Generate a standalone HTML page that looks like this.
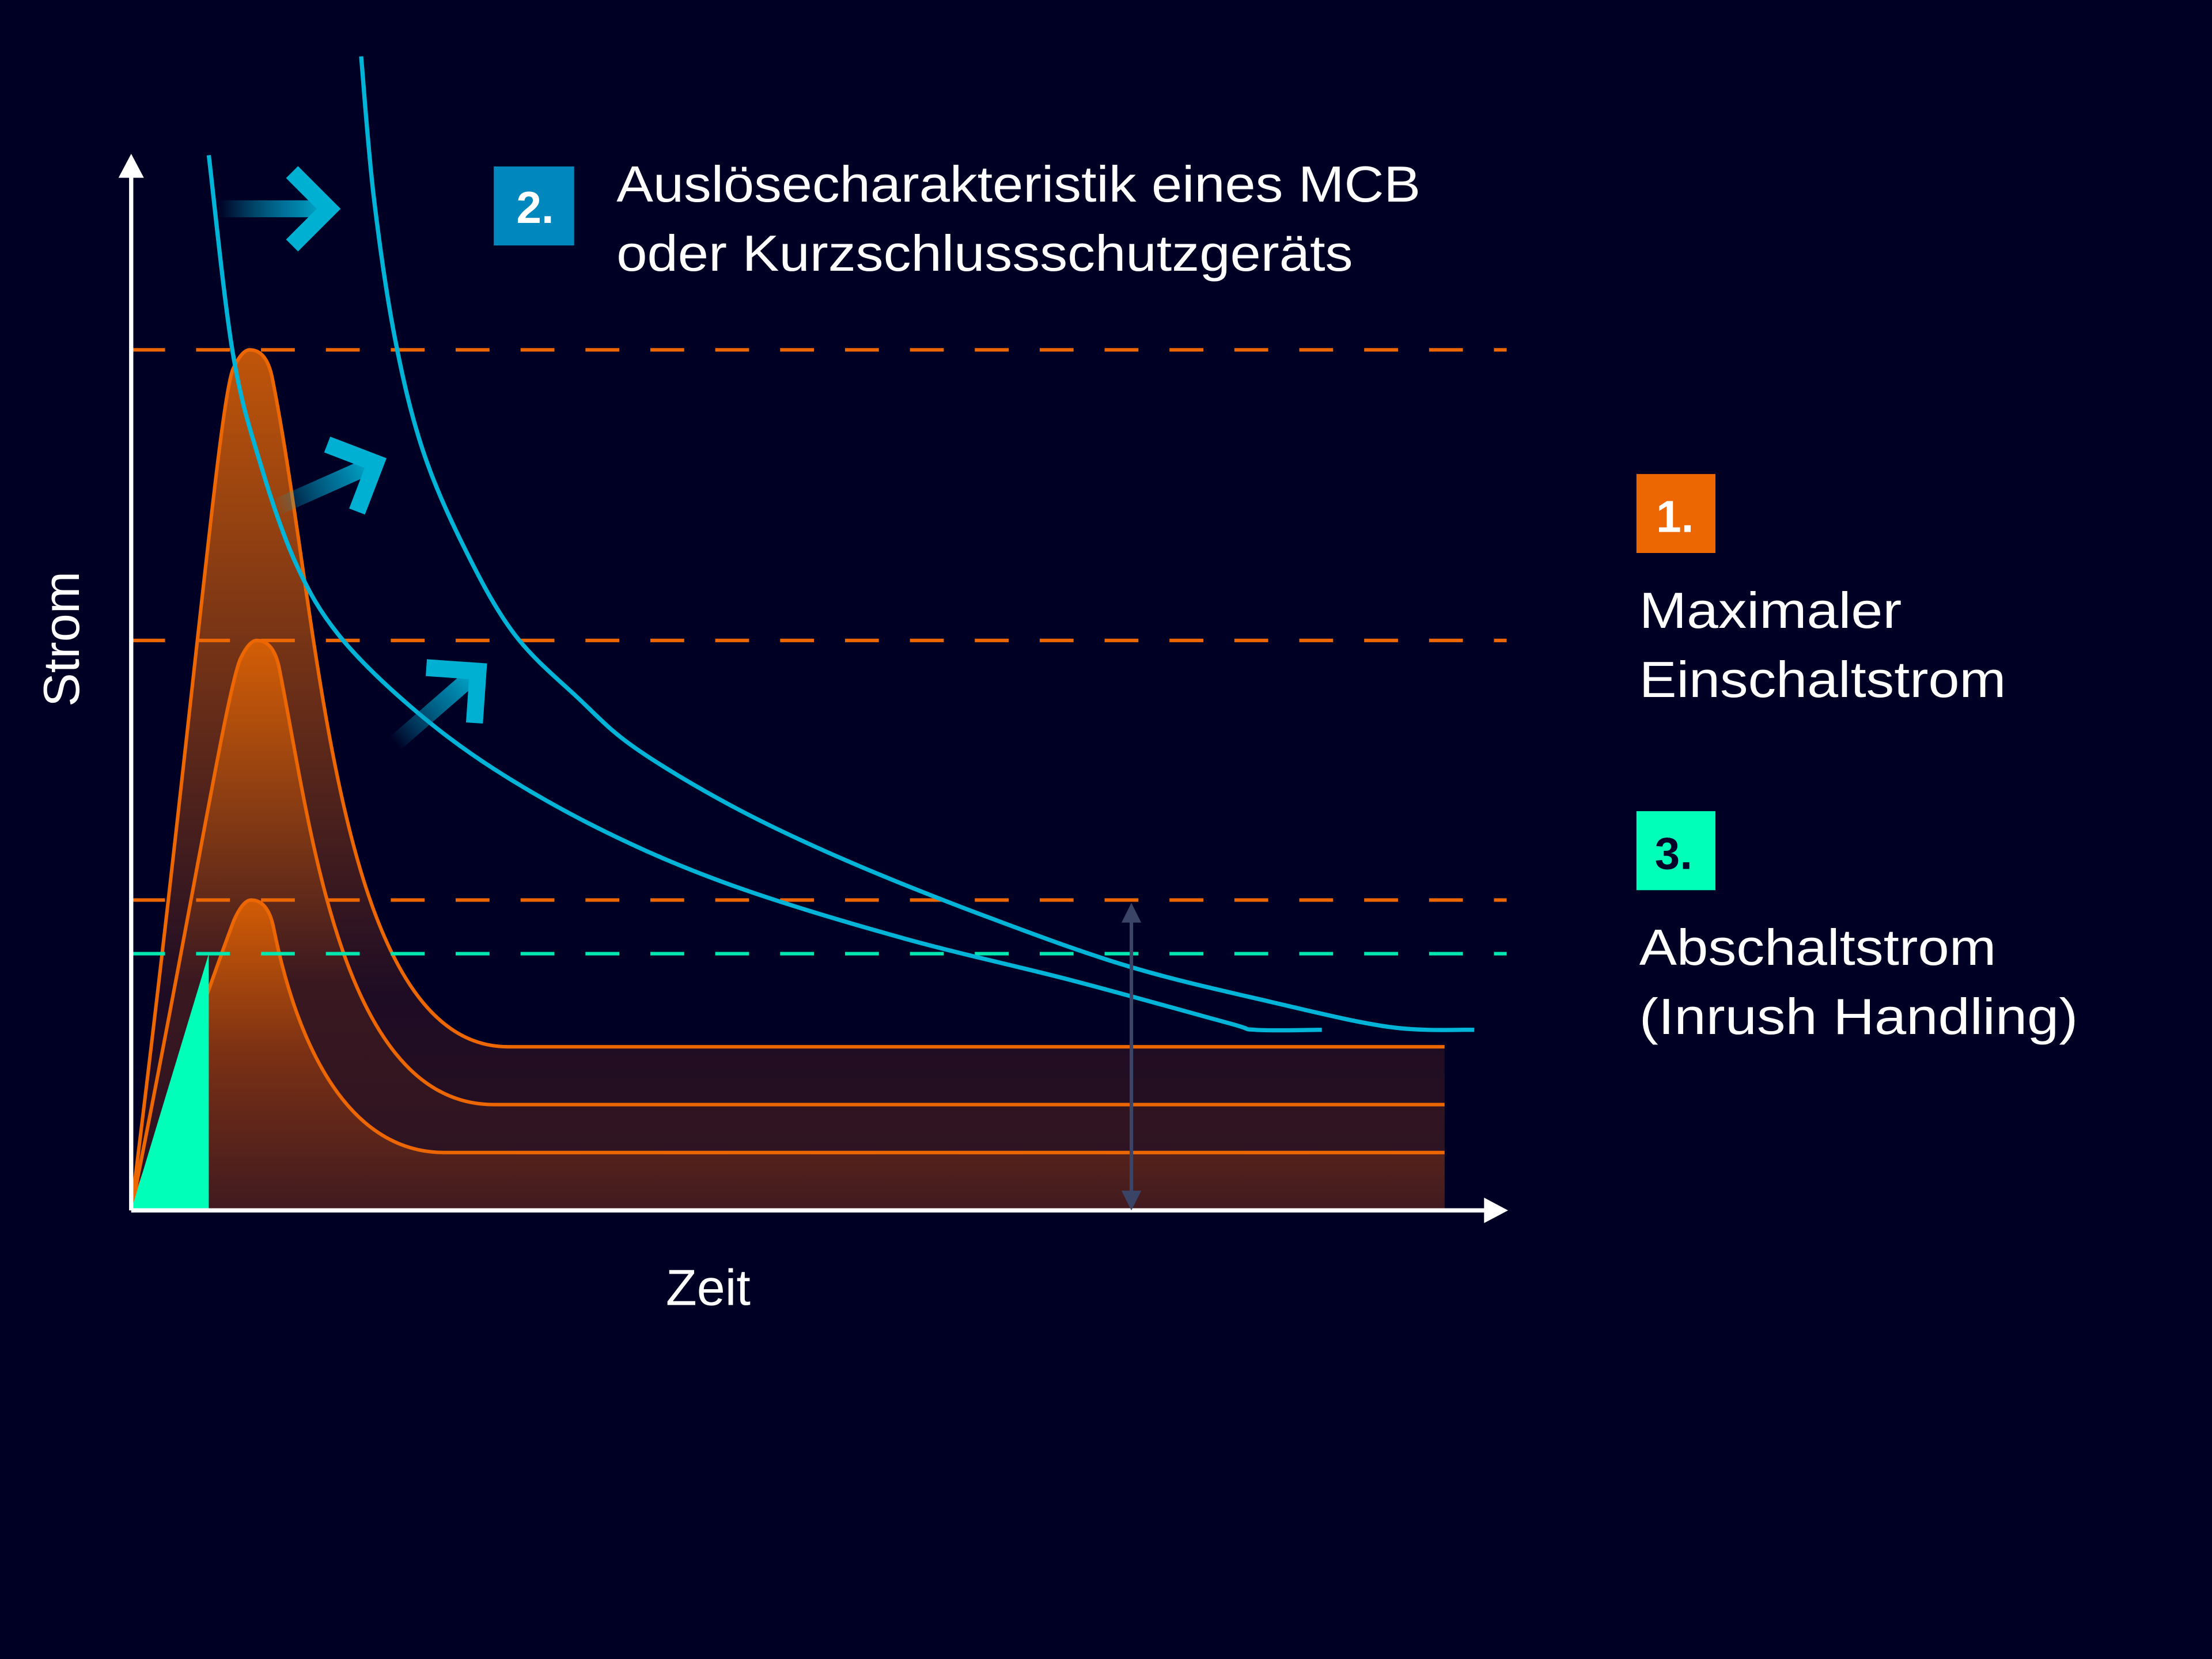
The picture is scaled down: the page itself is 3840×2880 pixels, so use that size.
<!DOCTYPE html>
<html><head><meta charset="utf-8">
<style>
html,body{margin:0;padding:0;background:#000024;}
svg{display:block;}
text{font-family:"Liberation Sans",sans-serif;fill:#ffffff;}
</style></head>
<body>
<svg id="chart" width="3840" height="2880" viewBox="0 0 1568 1176" xmlns="http://www.w3.org/2000/svg">
<defs>
<linearGradient id="fill1" x1="0" y1="0" x2="0" y2="1">
<stop offset="0" stop-color="#c0550a"/><stop offset="0.75" stop-color="#1e0c24"/><stop offset="1" stop-color="#2a1020"/></linearGradient>
<linearGradient id="fill2" x1="0" y1="0" x2="0" y2="1">
<stop offset="0" stop-color="#d45e06"/><stop offset="0.6" stop-color="#3a1820"/><stop offset="1" stop-color="#2a1222"/></linearGradient>
<linearGradient id="fill3" x1="0" y1="0" x2="0" y2="1">
<stop offset="0" stop-color="#d25c05"/><stop offset="0.5" stop-color="#7a3014"/><stop offset="1" stop-color="#401a20"/></linearGradient>
<linearGradient id="arrowGrad" gradientUnits="userSpaceOnUse" x1="0" y1="0" x2="80" y2="0">
<stop offset="0" stop-color="#00b7d8" stop-opacity="0"/><stop offset="0.6" stop-color="#0090b8" stop-opacity="0.8"/><stop offset="1" stop-color="#00b7d8"/></linearGradient>
</defs>
<rect x="0" y="0" width="1568" height="1176" fill="#000024"/>
<g id="plot"></g>

<text x="0" y="0" font-size="36" transform="translate(56,453) rotate(-90)" text-anchor="middle">Strom</text>
<text x="502" y="925" font-size="36" text-anchor="middle">Zeit</text>

<rect x="350" y="118" width="57" height="56" fill="#0087be"/>
<text x="366" y="158" font-size="32" font-weight="bold">2.</text>
<text x="437" y="143" font-size="36" textLength="570" lengthAdjust="spacingAndGlyphs">Auslösecharakteristik eines MCB</text>
<text x="437" y="192" font-size="36" textLength="522" lengthAdjust="spacingAndGlyphs">oder Kurzschlussschutzgeräts</text>

<rect x="1160" y="336" width="56" height="56" fill="#ec6602"/>
<text x="1174" y="377" font-size="32" font-weight="bold">1.</text>
<text x="1162" y="445" font-size="36" textLength="186" lengthAdjust="spacingAndGlyphs">Maximaler</text>
<text x="1162" y="494" font-size="36" textLength="260" lengthAdjust="spacingAndGlyphs">Einschaltstrom</text>

<rect x="1160" y="575" width="56" height="56" fill="#00ffb9"/>
<text x="1173" y="616" font-size="32" font-weight="bold" style="fill:#000028">3.</text>
<text x="1162" y="684" font-size="36" textLength="253" lengthAdjust="spacingAndGlyphs">Abschaltstrom</text>
<text x="1162" y="733" font-size="36" textLength="311" lengthAdjust="spacingAndGlyphs">(Inrush Handling)</text>
</svg>
<script>
// data (time units, current units)
const peakTimes = [8.4, 8.9, 8.5];
const peakCurrents = [61.0, 40.4, 22.0];
const plateauCurrents = [11.6, 7.5, 4.1];
const plateauStartTimes = [26.7, 25.7, 22.2];
const plateauEndTime = 93.1;
const dashLevels = [61.0, 40.4, 22.0];
const cutoffLevel = 18.2;
const greenEndTime = 5.5;
const tripATimes = [5.5,7.2,9.2,11.7,14.7,19.7,25.7,33.7,42.7,54.7,66.7,77.7,79.7,84.4];
const tripACurrents = [74.8,60.8,52.8,45.8,40.8,35.8,31.3,26.8,23.0,19.3,16.3,13.3,12.8,12.8];
const tripBTimes = [16.3,17.2,18.7,20.7,23.7,27.2,31.7,35.7,42.7,50.7,60.7,70.7,80.7,89.2,95.2];
const tripBCurrents = [81.8,71.8,61.8,53.8,46.8,40.8,36.3,32.8,28.6,24.8,20.8,17.3,14.8,13.0,12.8];

const X0 = 93, Y0 = 858;
function sx(t){ return X0 + t*10; }
function sy(i){ return Y0 - i*10; }
const NS = "http://www.w3.org/2000/svg";
const plot = document.getElementById('plot');
function mk(tag, attrs){ const e=document.createElementNS(NS,tag); for(const k in attrs) e.setAttribute(k,attrs[k]); plot.appendChild(e); return e; }

const fills = ['url(#fill1)','url(#fill2)','url(#fill3)'];
for(let k=0;k<3;k++){
  const px=sx(peakTimes[k]), py=sy(peakCurrents[k]), pl=sy(plateauCurrents[k]), xs=sx(plateauStartTimes[k]), xe=sx(plateauEndTime);
  const h=pl-py;
  const top = `M${X0},${Y0} C${X0+(px-X0)*0.5},${Y0-(Y0-py)*0.55} ${px-22},${py+40} ${px-12},${py+14} C${px-7},${py+3} ${px-3},${py} ${px},${py} C${px+7},${py} ${px+13},${py+5} ${px+16},${py+20} C${px+16+0.07*h},${py+20+0.35*h} ${px+60},${pl} ${xs},${pl} L${xe},${pl}`;
  const f = mk('path',{d: top+` L${xe},${Y0} Z`, fill: fills[k]});
  
  
  const l = mk('path',{d: top, fill:'none', stroke:'#ec6602', 'stroke-width':2.5});
  
  
}
{
  const gx=sx(greenEndTime), gy=sy(cutoffLevel);
  const g = mk('path',{d:`M${X0},${Y0} L${gx},${gy} L${gx},${Y0} Z`, fill:'#00ffb9'});
  
  
}
dashLevels.forEach((lv,i)=>{
  const d = mk('line',{x1:X0,x2:sx(97.5),y1:sy(lv),y2:sy(lv),stroke:'#ec6602','stroke-width':2.5,'stroke-dasharray':'24 22'});
  
  
});
{
  const d = mk('line',{x1:X0,x2:sx(97.5),y1:sy(cutoffLevel),y2:sy(cutoffLevel),stroke:'#00e8b0','stroke-width':2.5,'stroke-dasharray':'24 22'});
  
  
}
function smooth(ts, is){
  const p = ts.map((t,i)=>[sx(t),sy(is[i])]);
  let d=`M${p[0][0]},${p[0][1]}`;
  for(let i=0;i<p.length-1;i++){
    const p0=p[Math.max(0,i-1)], p1=p[i], p2=p[i+1], p3=p[Math.min(p.length-1,i+2)];
    d+=` C${p1[0]+(p2[0]-p0[0])/6},${p1[1]+(p2[1]-p0[1])/6} ${p2[0]-(p3[0]-p1[0])/6},${p2[1]-(p3[1]-p1[1])/6} ${p2[0]},${p2[1]}`;
  }
  return d;
}
{
  const a = mk('path',{d:smooth(tripATimes,tripACurrents),fill:'none',stroke:'#00b4d8','stroke-width':3});
  
  
  const b = mk('path',{d:smooth(tripBTimes,tripBCurrents),fill:'none',stroke:'#00b4d8','stroke-width':3});
  
  
}
function arrow(x,y,ang,name){
  const g=document.createElementNS(NS,'g');
  g.setAttribute('transform',`translate(${x},${y}) rotate(${ang})`);
  
  
  const r=document.createElementNS(NS,'rect');
  r.setAttribute('x',0);r.setAttribute('y',-6);r.setAttribute('width',70);r.setAttribute('height',12);r.setAttribute('fill','url(#arrowGrad)');
  g.appendChild(r);
  const h=document.createElementNS(NS,'path');
  h.setAttribute('d','M52,-26 L78,0 L52,26');h.setAttribute('fill','none');h.setAttribute('stroke','#00b0d2');h.setAttribute('stroke-width',12);
  g.appendChild(h);
  plot.appendChild(g);
}
arrow(155,148,0,'shift-arrow-1');
arrow(195,360,-24,'shift-arrow-2');
arrow(280,527,-41,'shift-arrow-3');
{
  const ya = mk('line',{x1:X0,y1:Y0,x2:X0,y2:118,stroke:'#fff','stroke-width':3});
  
  
  const yh = mk('path',{d:`M${X0-9},${126} L${X0},${109} L${X0+9},${126} Z`,fill:'#fff'});
  
  
  const xa = mk('line',{x1:X0,y1:Y0,x2:1058,y2:Y0,stroke:'#fff','stroke-width':3});
  
  
  const xh = mk('path',{d:`M1052,${Y0-9} L1069,${Y0} L1052,${Y0+9} Z`,fill:'#fff'});
  
  
}
{
  const vx=802, top=sy(dashLevels[2])+2;
  const v = mk('line',{x1:vx,x2:vx,y1:top+12,y2:Y0-12,stroke:'#3a4466','stroke-width':2.5});
  
  
  const h1 = mk('path',{d:`M${vx-7},${top+14} L${vx},${top} L${vx+7},${top+14} Z`,fill:'#3a4466'});
  
  
  const h2 = mk('path',{d:`M${vx-7},${Y0-14} L${vx},${Y0} L${vx+7},${Y0-14} Z`,fill:'#3a4466'});
  
  
}
</script>
</body></html>
